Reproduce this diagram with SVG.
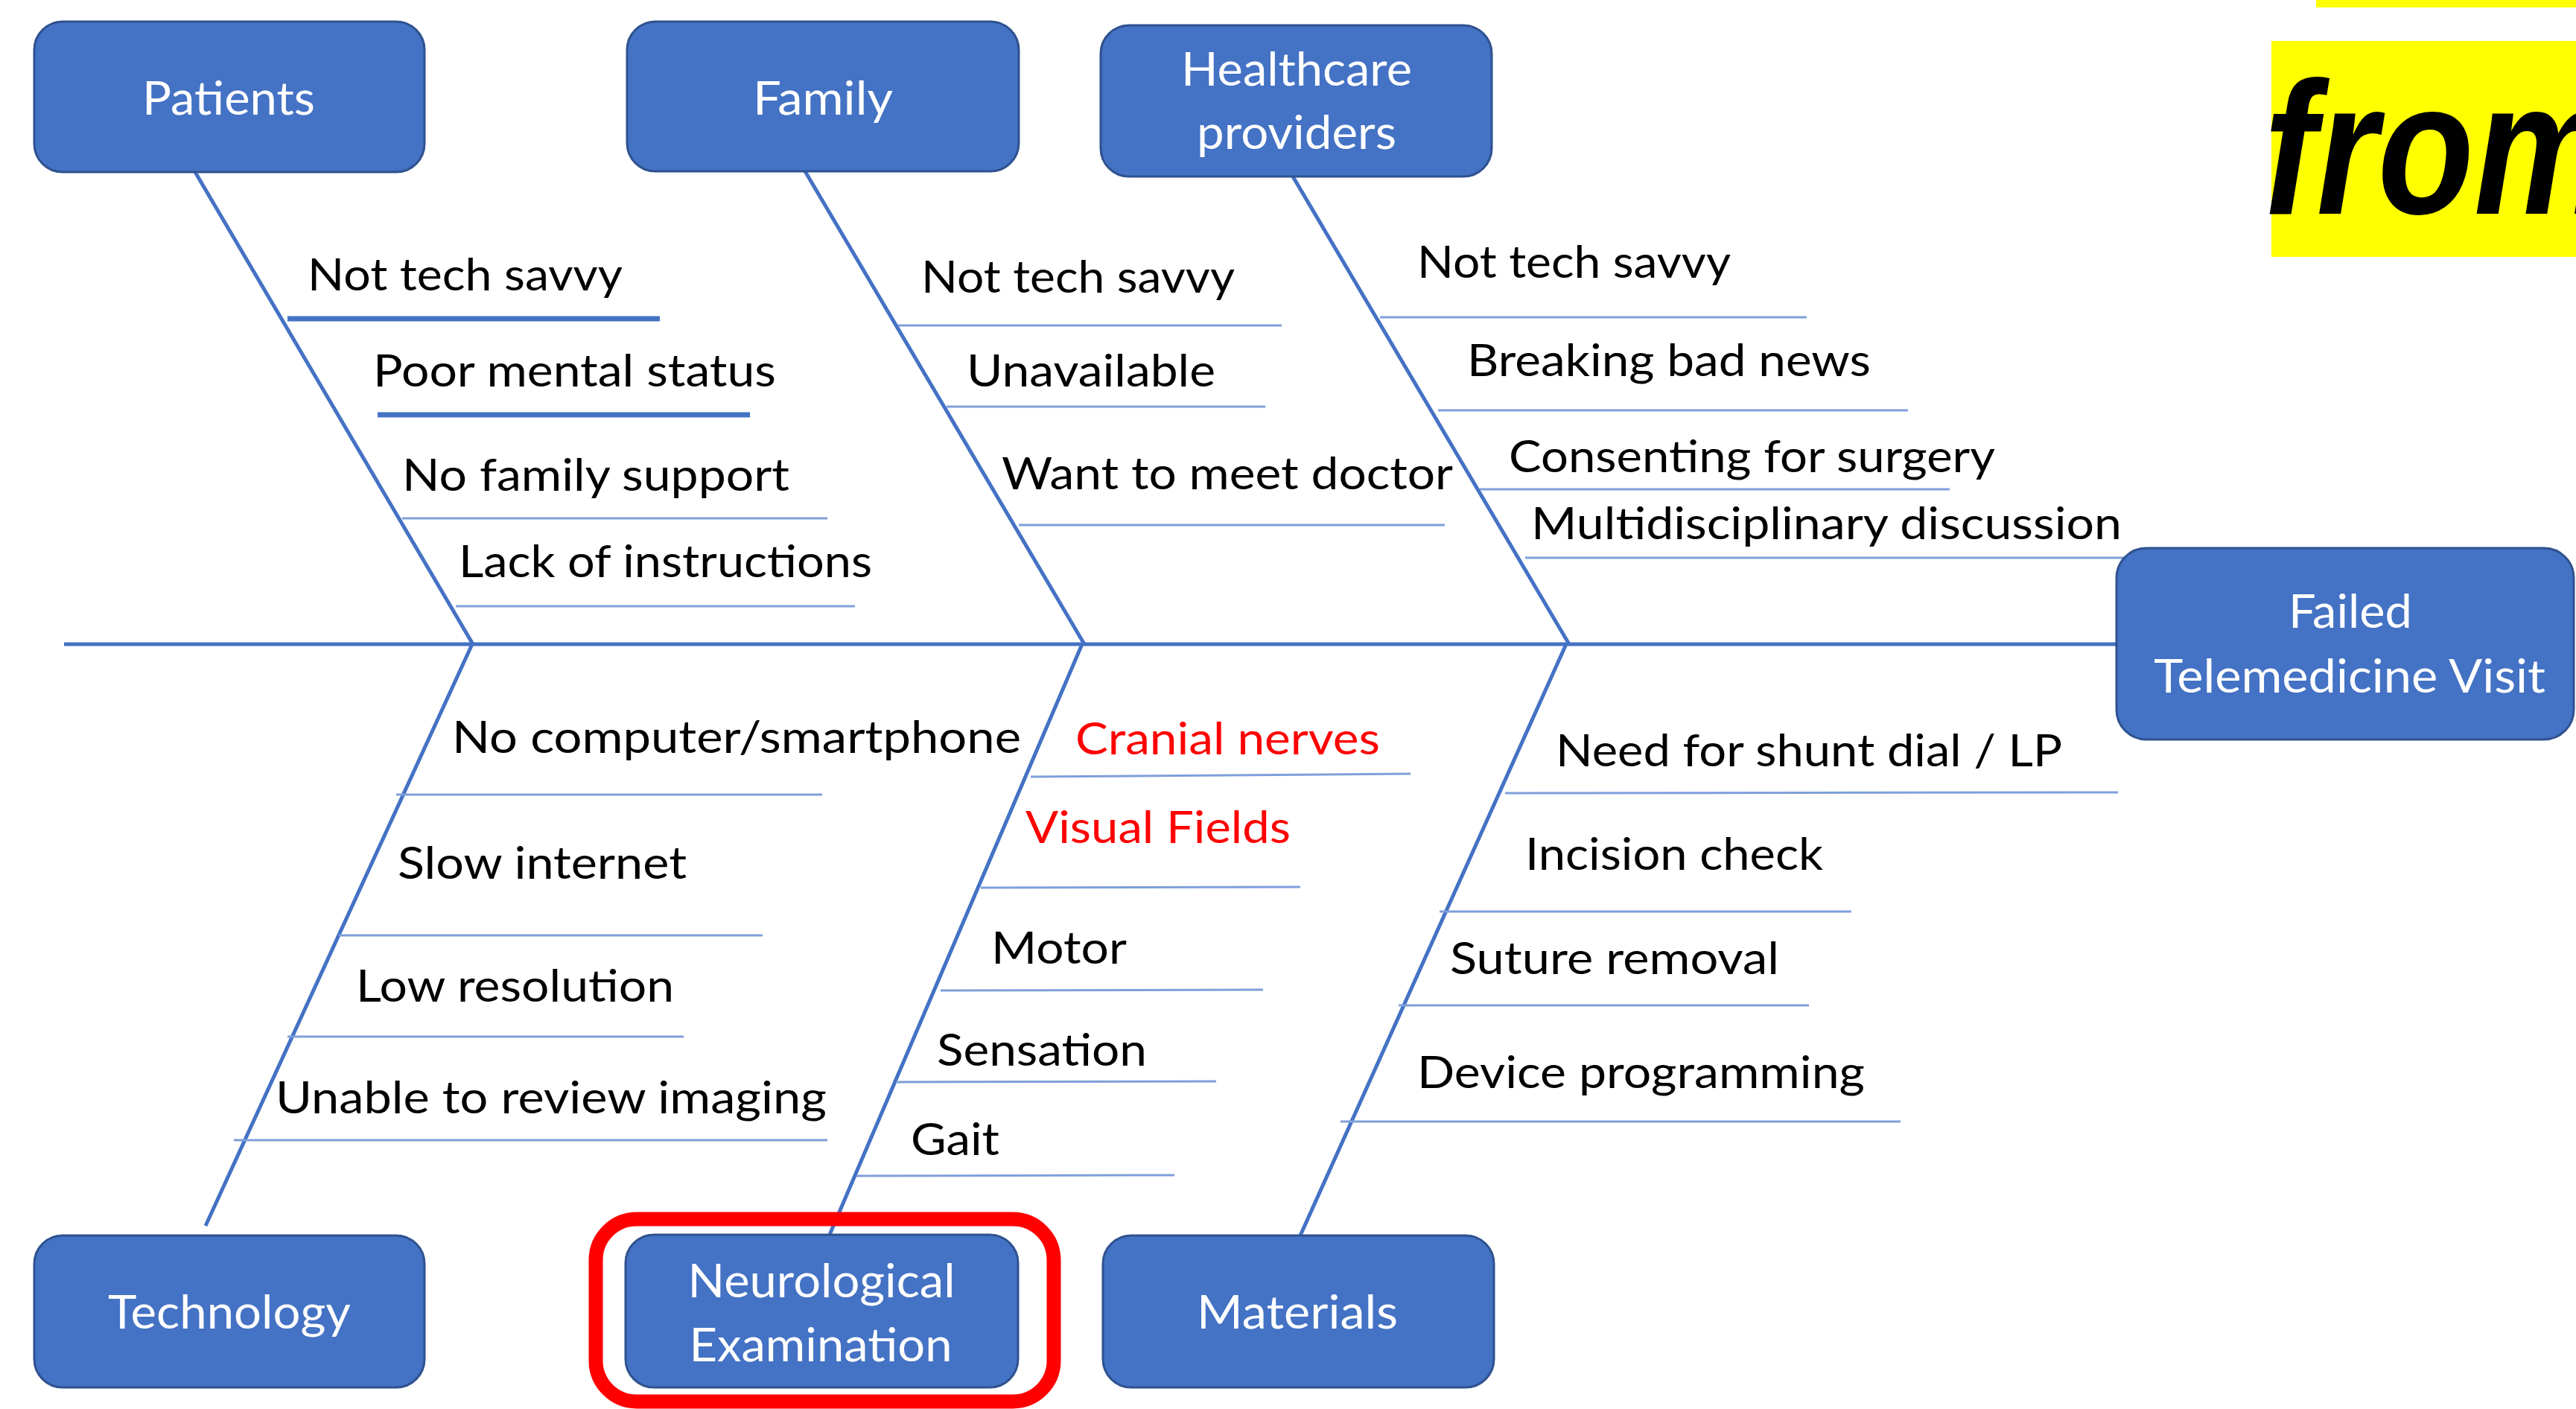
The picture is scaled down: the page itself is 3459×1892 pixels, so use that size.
<svg xmlns="http://www.w3.org/2000/svg" width="3459" height="1892" viewBox="0 0 3459 1892">
<style>
.box{fill:#4472C4;stroke:#2F528F;stroke-width:3}
.lbl{font-family:Lato,"Liberation Sans",sans-serif;font-size:62px;fill:#FFFFFF;text-anchor:middle}
.itm{font-family:Lato,"Liberation Sans",sans-serif;font-size:60px;fill:#000000}
.red{fill:#FF0000}
.spine{stroke:#4472C4;stroke-width:5;fill:none}
.sub{stroke:#7F9FDA;stroke-width:3;fill:none}
.thick{stroke:#4472C4;stroke-width:7;fill:none}
</style>
<rect width="3459" height="1892" fill="#FFFFFF"/>
<g id="banner">
<rect x="3110" y="0" width="360" height="10" fill="#FFFF00"/>
<rect x="3050" y="55" width="420" height="290" fill="#FFFF00"/>
<text x="3040" y="287" font-family="'Liberation Sans',sans-serif" font-weight="bold" font-style="italic" font-size="255" textLength="470" lengthAdjust="spacingAndGlyphs" fill="#000000">from</text>
</g>
<g id="connectors">
<line class="spine" x1="86" y1="865" x2="2842" y2="865"/>
<line class="spine" x1="262" y1="231" x2="635" y2="865"/>
<line class="spine" x1="1081" y1="230" x2="1456" y2="865"/>
<line class="spine" x1="1736" y1="237" x2="2107" y2="865"/>
<line class="spine" x1="634" y1="865" x2="276" y2="1646"/>
<line class="spine" x1="1453" y1="865" x2="1114" y2="1658"/>
<line class="spine" x1="2103" y1="865" x2="1746" y2="1659"/>
<line class="thick" x1="386" y1="428" x2="886" y2="428"/>
<line class="thick" x1="507" y1="557" x2="1007" y2="557"/>
<line class="sub" x1="540" y1="696" x2="1111" y2="696"/>
<line class="sub" x1="612" y1="814" x2="1148" y2="814"/>
<line class="sub" x1="1206" y1="437" x2="1721" y2="437"/>
<line class="sub" x1="1271" y1="546" x2="1699" y2="546"/>
<line class="sub" x1="1368" y1="705" x2="1940" y2="705"/>
<line class="sub" x1="1853" y1="426" x2="2426" y2="426"/>
<line class="sub" x1="1931" y1="551" x2="2562" y2="551"/>
<line class="sub" x1="1987" y1="657" x2="2618" y2="657"/>
<line class="sub" x1="2048" y1="749" x2="2858" y2="749"/>
<line class="sub" x1="532" y1="1067" x2="1104" y2="1067"/>
<line class="sub" x1="455" y1="1256" x2="1024" y2="1256"/>
<line class="sub" x1="386" y1="1392" x2="918" y2="1392"/>
<line class="sub" x1="314" y1="1531" x2="1111" y2="1531"/>
<line class="sub" x1="1384" y1="1043" x2="1894" y2="1039"/>
<line class="sub" x1="1317" y1="1192" x2="1746" y2="1191"/>
<line class="sub" x1="1263" y1="1330" x2="1696" y2="1329"/>
<line class="sub" x1="1203" y1="1453" x2="1633" y2="1452"/>
<line class="sub" x1="1150" y1="1579" x2="1577" y2="1578"/>
<line class="sub" x1="2021" y1="1065" x2="2844" y2="1064"/>
<line class="sub" x1="1933" y1="1224" x2="2486" y2="1224"/>
<line class="sub" x1="1878" y1="1350" x2="2429" y2="1350"/>
<line class="sub" x1="1800" y1="1506" x2="2552" y2="1506"/>
</g>
<g id="patients">
<rect class="box" x="46" y="29" width="524" height="202" rx="38"/>
<text class="lbl" x="307" y="154" textLength="232" lengthAdjust="spacingAndGlyphs">Patients</text>
<text class="itm" x="413" y="390" textLength="423" lengthAdjust="spacingAndGlyphs">Not tech savvy</text>
<text class="itm" x="501" y="519" textLength="541" lengthAdjust="spacingAndGlyphs">Poor mental status</text>
<text class="itm" x="540" y="659" textLength="520" lengthAdjust="spacingAndGlyphs">No family support</text>
<text class="itm" x="616" y="775" textLength="555" lengthAdjust="spacingAndGlyphs">Lack of instructions</text>
</g>
<g id="family">
<rect class="box" x="842" y="29" width="526" height="201" rx="38"/>
<text class="lbl" x="1105" y="154" textLength="188" lengthAdjust="spacingAndGlyphs">Family</text>
<text class="itm" x="1237" y="393" textLength="421" lengthAdjust="spacingAndGlyphs">Not tech savvy</text>
<text class="itm" x="1298" y="519" textLength="334" lengthAdjust="spacingAndGlyphs">Unavailable</text>
<text class="itm" x="1345" y="657" textLength="606" lengthAdjust="spacingAndGlyphs">Want to meet doctor</text>
</g>
<g id="healthcare">
<rect class="box" x="1478" y="34" width="525" height="203" rx="38"/>
<text class="lbl" x="1741" y="115" textLength="310" lengthAdjust="spacingAndGlyphs">Healthcare</text>
<text class="lbl" x="1741" y="200" textLength="268" lengthAdjust="spacingAndGlyphs">providers</text>
<text class="itm" x="1903" y="373" textLength="421" lengthAdjust="spacingAndGlyphs">Not tech savvy</text>
<text class="itm" x="1970" y="505" textLength="542" lengthAdjust="spacingAndGlyphs">Breaking bad news</text>
<text class="itm" x="2026" y="634" textLength="653" lengthAdjust="spacingAndGlyphs">Consenting for surgery</text>
<text class="itm" x="2056" y="724" textLength="793" lengthAdjust="spacingAndGlyphs">Multidisciplinary discussion</text>
</g>
<g id="failed">
<rect class="box" x="2842" y="736" width="614" height="257" rx="40"/>
<text class="lbl" x="3156" y="843" textLength="166" lengthAdjust="spacingAndGlyphs">Failed</text>
<text class="lbl" x="3155" y="930" textLength="526" lengthAdjust="spacingAndGlyphs">Telemedicine Visit</text>
</g>
<g id="technology">
<rect class="box" x="46" y="1659" width="524" height="204" rx="38"/>
<text class="lbl" x="308" y="1784" textLength="326" lengthAdjust="spacingAndGlyphs">Technology</text>
<text class="itm" x="607" y="1011" textLength="764" lengthAdjust="spacingAndGlyphs">No computer/smartphone</text>
<text class="itm" x="534" y="1180" textLength="388" lengthAdjust="spacingAndGlyphs">Slow internet</text>
<text class="itm" x="478" y="1345" textLength="427" lengthAdjust="spacingAndGlyphs">Low resolution</text>
<text class="itm" x="370" y="1495" textLength="740" lengthAdjust="spacingAndGlyphs">Unable to review imaging</text>
</g>
<g id="neurological">
<rect x="800" y="1637" width="615" height="245" rx="55" fill="none" stroke="#FF0000" stroke-width="19"/>
<rect class="box" x="840" y="1658" width="527" height="205" rx="38"/>
<text class="lbl" x="1103" y="1742" textLength="359" lengthAdjust="spacingAndGlyphs">Neurological</text>
<text class="lbl" x="1102" y="1828" textLength="353" lengthAdjust="spacingAndGlyphs">Examination</text>
<text class="itm red" x="1444" y="1013" textLength="409" lengthAdjust="spacingAndGlyphs">Cranial nerves</text>
<text class="itm red" x="1377" y="1132" textLength="356" lengthAdjust="spacingAndGlyphs">Visual Fields</text>
<text class="itm" x="1331" y="1294" textLength="182" lengthAdjust="spacingAndGlyphs">Motor</text>
<text class="itm" x="1258" y="1431" textLength="282" lengthAdjust="spacingAndGlyphs">Sensation</text>
<text class="itm" x="1223" y="1551" textLength="119" lengthAdjust="spacingAndGlyphs">Gait</text>
</g>
<g id="materials">
<rect class="box" x="1481" y="1659" width="525" height="204" rx="38"/>
<text class="lbl" x="1742" y="1784" textLength="270" lengthAdjust="spacingAndGlyphs">Materials</text>
<text class="itm" x="2089" y="1029" textLength="680" lengthAdjust="spacingAndGlyphs">Need for shunt dial / LP</text>
<text class="itm" x="2048" y="1168" textLength="400" lengthAdjust="spacingAndGlyphs">Incision check</text>
<text class="itm" x="1947" y="1308" textLength="442" lengthAdjust="spacingAndGlyphs">Suture removal</text>
<text class="itm" x="1903" y="1461" textLength="601" lengthAdjust="spacingAndGlyphs">Device programming</text>
</g>
</svg>
